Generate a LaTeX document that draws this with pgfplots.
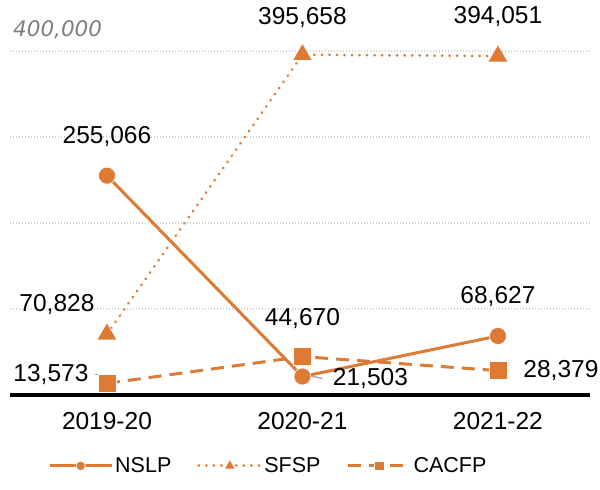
\documentclass[border=0pt]{standalone}
\usepackage{pgfplots}
\pgfplotsset{compat=1.18}
\usepackage{fontspec}
\setmainfont{Liberation Sans}
\newfontfamily\djv{DejaVu Sans}
\definecolor{org}{RGB}{221,122,51}
\begin{document}
\begin{tikzpicture}
\useasboundingbox (-10pt,-95pt) rectangle (590pt,395pt);
\begin{axis}[
  scale only axis, width=580pt, height=344pt, at={(0pt,0pt)}, anchor=south west,
  xmin=-0.496, xmax=2.471, ymin=0, ymax=400000,
  clip=false,
  scaled y ticks=false,
  axis x line*=bottom,
  axis y line*=left,
  y axis line style={draw=none},
  x axis line style={line width=4pt, black},
  xtick={0,1,2}, xticklabels={2019-20,2020-21,2021-22},
  ytick={100000,200000,300000,400000}, yticklabels={},
  major tick length=0pt,
  ymajorgrids,
  major grid style={gray!35, line width=1.3pt, dash pattern=on 1.3pt off 1.7pt},
  tick label style={font=\fontsize{24.5}{28}\selectfont},
  xticklabel style={yshift=-14pt},
  legend columns=3,
  legend style={draw=none, fill=none, at={(axis description cs:0.0655,-0.206)}, anchor=west,
    font=\fontsize{21.5}{25}\selectfont, /tikz/every even column/.append style={column sep=24pt},
    inner sep=0pt},
  legend image code/.code={\draw[#1, mark repeat=2, mark phase=2, /tikz/every mark/.append style={scale=0.55}] plot coordinates {(0pt,0pt)(31pt,0pt)(62pt,0pt)};},
]
% leader lines
\draw[gray!70, line width=1.3pt] ([xshift=-12pt,yshift=9pt]axis cs:0,13573) -- ([yshift=9pt]axis cs:0,13573) -- ([yshift=2pt]axis cs:0,13573);
\draw[gray!70, line width=1.3pt] ([xshift=6pt,yshift=1pt]axis cs:1,21503) -- ([xshift=20pt,yshift=-2pt]axis cs:1,21503);

\addplot[org, line width=3pt, mark=*, mark size=8.5pt, mark options={solid, draw=white, line width=0.6pt}]
  coordinates {(0,255066)(1,21503)(2,68627)};
\addlegendentry{NSLP}
\addplot[org, line width=3pt, line cap=round, dash pattern=on 0.01pt off 7.5pt, mark=triangle*, mark size=11.5pt, mark options={solid, draw=white, line width=0.6pt}]
  coordinates {(0,70828)(1,395658)(2,394051)};
\addlegendentry{SFSP}
\addplot[org, line width=3pt, dash pattern=on 13pt off 8pt, mark=square*, mark size=9pt, mark options={solid, draw=white, line width=0.8pt}]
  coordinates {(0,13573)(1,44670)(2,28379)};
\addlegendentry{CACFP}

\begin{scope}[every node/.style={font=\fontsize{24.5}{28}\selectfont, inner sep=0pt}]
\node[yshift=39pt] at (axis cs:0,255066) {255,066};
\node[xshift=-50pt,yshift=30pt] at (axis cs:0,70828) {70,828};
\node[xshift=-56pt,yshift=9pt] at (axis cs:0,13573) {13,573};
\node[yshift=37pt] at (axis cs:1,395658) {395,658};
\node[yshift=38pt] at (axis cs:1,44670) {44,670};
\node[xshift=68pt,yshift=-2pt] at (axis cs:1,21503) {21,503};
\node[yshift=40pt] at (axis cs:2,394051) {394,051};
\node[yshift=39pt] at (axis cs:2,68627) {68,627};
\node[xshift=63pt] at (axis cs:2,28379) {28,379};
\end{scope}
\node[anchor=west, inner sep=0pt, text=gray, font=\djv\itshape\fontsize{21.5}{25}\selectfont, xshift=3pt, yshift=21pt] at (axis cs:-0.496,400000) {400,000};
\end{axis}
\end{tikzpicture}
\end{document}
